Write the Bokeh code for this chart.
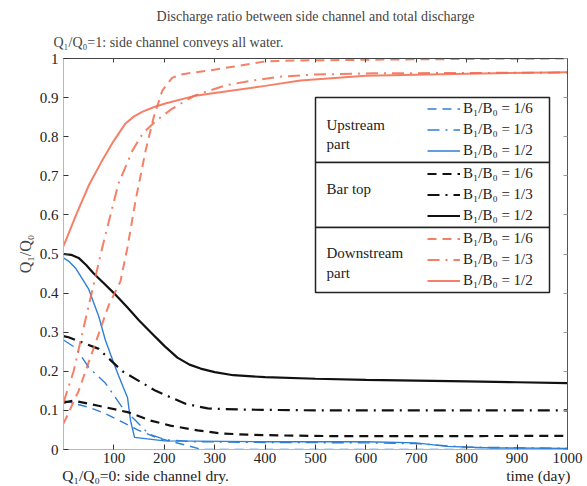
from bokeh.plotting import figure
from bokeh.models import (Range1d, LinearAxis, FixedTicker, CustomJSTickFormatter, Legend,
                          LegendItem, BoxAnnotation, Label, Title, CustomLabelingPolicy)
from bokeh.embed import file_html
from bokeh.resources import INLINE

FONT = "Liberation Serif"

# ---------------- data ----------------
# Upstream part (blue)
up16_t = [0, 50, 83, 117, 149, 183, 206, 240, 275, 1000]
up16_y = [0.125, 0.108, 0.092, 0.070, 0.049, 0.031, 0.023, 0.012, 0.0, 0.0]
up13_t = [0, 24, 50, 83, 117, 143, 169, 202, 260, 400, 600, 700, 800, 1000]
up13_y = [0.28, 0.26, 0.21, 0.17, 0.107, 0.074, 0.040, 0.025, 0.020, 0.018, 0.017, 0.015, 0.006, 0.003]
up12_t = [0, 10, 25, 50, 70, 83, 100, 109, 120, 127, 133, 141, 200, 400, 600, 700, 760, 850, 1000]
up12_y = [0.49, 0.482, 0.462, 0.41, 0.34, 0.28, 0.22, 0.19, 0.155, 0.133, 0.074, 0.031, 0.022, 0.020,
          0.020, 0.017, 0.008, 0.004, 0.003]

# Bar top (black)
bar16_t = [0, 20, 69, 129, 173, 212, 266, 312, 365, 425, 544, 700, 1000]
bar16_y = [0.12, 0.125, 0.112, 0.095, 0.074, 0.061, 0.049, 0.041, 0.038, 0.036, 0.034, 0.034, 0.035]
bar13_t = [0, 10, 69, 117, 183, 242, 286, 357, 500, 1000]
bar13_y = [0.29, 0.287, 0.258, 0.20, 0.15, 0.117, 0.105, 0.102, 0.10, 0.10]
bar12_t = [0, 15, 30, 45, 60, 80, 100, 127, 150, 173, 200, 226, 250, 272, 300, 337, 400, 500, 600,
           700, 800, 900, 1000]
bar12_y = [0.50, 0.498, 0.49, 0.472, 0.45, 0.425, 0.40, 0.363, 0.33, 0.30, 0.265, 0.235, 0.217, 0.207,
           0.198, 0.19, 0.185, 0.181, 0.178, 0.176, 0.174, 0.172, 0.17]

# Downstream part (orange)
dn16_t = [0, 30, 60, 90, 113, 127, 143, 163, 179, 196, 216, 236, 282, 351, 397, 454, 550, 700, 1000]
dn16_y = [0.066, 0.15, 0.26, 0.37, 0.43, 0.517, 0.637, 0.765, 0.85, 0.918, 0.951, 0.96, 0.968, 0.982,
          0.992, 0.995, 0.996, 0.998, 1.0]
dn13_t = [0, 20, 45, 77, 109, 137, 157, 183, 216, 260, 321, 375, 435, 496, 615, 800, 1000]
dn13_y = [0.12, 0.20, 0.34, 0.517, 0.68, 0.765, 0.808, 0.84, 0.872, 0.905, 0.931, 0.944, 0.954, 0.959,
          0.962, 0.963, 0.964]
dn12_t = [0, 25, 50, 75, 100, 123, 140, 157, 180, 202, 262, 300, 400, 470, 600, 800, 1000]
dn12_y = [0.52, 0.60, 0.675, 0.735, 0.79, 0.834, 0.852, 0.864, 0.876, 0.885, 0.905, 0.912, 0.93,
          0.944, 0.956, 0.961, 0.965]

x_ticks = [100, 200, 300, 400, 500, 600, 700, 800, 900, 1000]
y_ticks = [0, 0.1, 0.2, 0.3, 0.4, 0.5, 0.6, 0.7, 0.8, 0.9, 1.0]
labels = ["B\u2081/B\u2080 = 1/6", "B\u2081/B\u2080 = 1/3", "B\u2081/B\u2080 = 1/2"]
bottom_left_text = "Q\u2081/Q\u2080=0: side channel dry."
x_title = "time (day)"

BLUE = "#2f7fd6"
BLACK = "#111111"
ORANGE = "#f36a4e"
DASH = "9 6"
DASHDOT = "12 6 2 6"

p = figure(width=587, height=486, output_backend="svg", toolbar_location=None, title=None,
           x_range=Range1d(0, 1000), y_range=Range1d(0, 1),
           min_border_left=63, min_border_right=20, min_border_top=58, min_border_bottom=37)
p.xgrid.visible = False
p.ygrid.visible = False
p.outline_line_color = "#444444"
p.background_fill_color = "white"

# axes
xa = p.xaxis[0]
ya = p.yaxis[0]
xa.ticker = FixedTicker(ticks=x_ticks)
ya.ticker = FixedTicker(ticks=y_ticks)
xa.formatter = CustomJSTickFormatter(code="return tick.toFixed(0)")
ya.formatter = CustomJSTickFormatter(code="return (tick < 0.001) ? '0' : (tick > 0.999 ? '1' : tick.toFixed(1))")
for ax in (xa, ya):
    ax.major_tick_in = 5
    ax.major_tick_out = 0
    ax.minor_tick_line_color = None
    ax.major_label_text_font = FONT
    ax.major_label_text_font_size = "15px"
    ax.major_label_text_color = "#222222"
    ax.major_tick_line_color = "#333333"
xa.axis_line_color = "#f0a090"
ya.axis_line_color = "#9cc0e4"
xa.major_label_standoff = 3
ya.major_label_standoff = 5
ya.axis_label = "Q\u2081/Q\u2080"
ya.axis_label_text_font = FONT
ya.axis_label_text_font_size = "16px"
ya.axis_label_text_font_style = "normal"
ya.axis_label_standoff = 3

# second bottom row: the two captions below the x tick labels
cap_ax = LinearAxis(ticker=FixedTicker(ticks=[163, 942]),
                    formatter=CustomJSTickFormatter(
                        args=dict(a=bottom_left_text, b=x_title),
                        code="return tick < 500 ? a : b"),
                    major_tick_in=0, major_tick_out=0, minor_tick_line_color=None,
                    major_tick_line_color=None, axis_line_color=None,
                    major_label_standoff=1, major_label_text_font=FONT,
                    major_label_text_font_size="15.5px", major_label_text_color="#222222")
p.add_layout(cap_ax, "below")

top_ax = LinearAxis(ticker=FixedTicker(ticks=x_ticks), major_tick_in=4, major_tick_out=0,
                    minor_tick_line_color=None, major_label_text_font_size="2px",
                    major_label_policy=CustomLabelingPolicy(code="for (const i of indices) indices.unset(i)"),
                    major_label_standoff=0, axis_line_color="#444444", major_tick_line_color="#444444")
p.add_layout(top_ax, "above")
right_ax = LinearAxis(ticker=FixedTicker(ticks=y_ticks), major_tick_in=4, major_tick_out=0,
                      minor_tick_line_color=None, major_label_text_font_size="2px",
                      major_label_policy=CustomLabelingPolicy(code="for (const i of indices) indices.unset(i)"),
                      major_label_standoff=0, axis_line_color="#555555", major_tick_line_color="#999999")
p.add_layout(right_ax, "right")

p.add_layout(Title(text="Q\u2081/Q\u2080=1: side channel conveys all water.", align="left", offset=-10,
                   text_font=FONT, text_font_size="14px", text_font_style="normal",
                   standoff=9), "above")
p.add_layout(Title(text="Discharge ratio between side channel and total discharge", align="center",
                   text_font=FONT, text_font_size="14px", text_font_style="normal",
                   standoff=9), "above")

# lines
r_up16 = p.line(up16_t, up16_y, line_color=BLUE, line_width=1.4, line_dash=DASH)
r_up13 = p.line(up13_t, up13_y, line_color=BLUE, line_width=1.4, line_dash=DASHDOT)
r_up12 = p.line(up12_t, up12_y, line_color=BLUE, line_width=1.4)
r_bar16 = p.line(bar16_t, bar16_y, line_color=BLACK, line_width=2.2, line_dash=DASH)
r_bar13 = p.line(bar13_t, bar13_y, line_color=BLACK, line_width=2.2, line_dash=DASHDOT)
r_bar12 = p.line(bar12_t, bar12_y, line_color=BLACK, line_width=2.2)
r_dn16 = p.line(dn16_t, dn16_y, line_color=ORANGE, line_width=2, line_alpha=0.85, line_dash=DASH)
r_dn13 = p.line(dn13_t, dn13_y, line_color=ORANGE, line_width=2, line_alpha=0.85, line_dash=DASHDOT)
r_dn12 = p.line(dn12_t, dn12_y, line_color=ORANGE, line_width=2, line_alpha=0.85)

# legend boxes (screen units, relative to the frame)
box_left, box_right = 252, 486
edges = [352, 287, 222, 157]
for i in range(3):
    p.add_layout(BoxAnnotation(left=box_left, right=box_right, top=edges[i], bottom=edges[i + 1],
                               left_units="screen", right_units="screen",
                               top_units="screen", bottom_units="screen",
                               fill_color="white", fill_alpha=1.0,
                               line_color="#222222", line_width=1.5, line_alpha=1.0))

groups = [
    ([r_up16, r_up13, r_up12], 286.5),
    ([r_bar16, r_bar13, r_bar12], 221.5),
    ([r_dn16, r_dn13, r_dn12], 156.5),
]
for rs, vy in groups:
    leg = Legend(items=[LegendItem(label=lab, renderers=[r]) for lab, r in zip(labels, rs)],
                 location=(362, vy), orientation="vertical",
                 border_line_alpha=0, background_fill_alpha=0,
                 padding=2, margin=0, spacing=0,
                 glyph_width=33, glyph_height=21, label_height=21, label_standoff=3,
                 label_text_font=FONT, label_text_font_size="15px", label_text_color="#222222")
    p.add_layout(leg, "center")

group_texts = [("Upstream", 325), ("part", 306), ("Bar top", 261), ("Downstream", 197), ("part", 177)]
for txt, yy in group_texts:
    p.add_layout(Label(x=263, y=yy, x_units="screen", y_units="screen", text=txt,
                       text_font=FONT, text_font_size="15px", text_baseline="middle",
                       text_color="#222222"))

open("out.html", "w").write(file_html(p, INLINE))
